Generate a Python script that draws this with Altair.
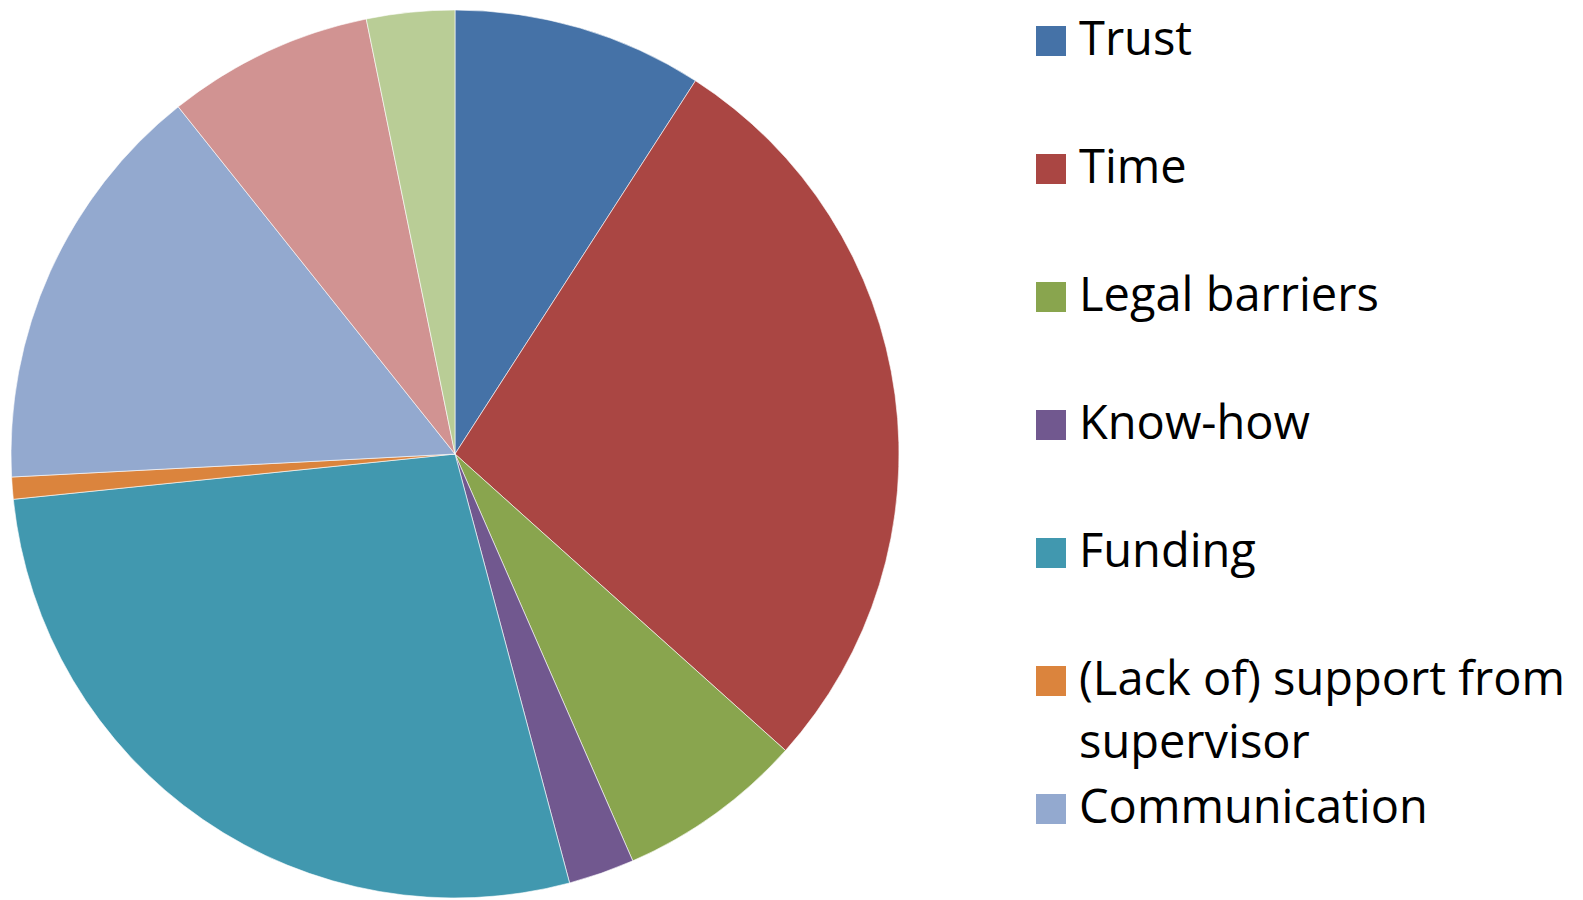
import altair as alt
import pandas as pd

categories = ["Trust", "Time", "Legal barriers", "Know-how", "Funding",
              "(Lack of) support from supervisor", "Communication", "Culture", "Other"]
values = [9.1, 27.5, 6.8, 2.4, 27.5, 0.8, 15.1, 7.5, 3.2]
colors = ["#4572A7", "#AA4643", "#89A54E", "#71588F", "#4198AF",
          "#DB843D", "#93A9CF", "#D19392", "#B9CD96"]
legend_labels = ["Trust", "Time", "Legal barriers", "Know-how", "Funding",
                 "(Lack of) support from\nsupervisor", "Communication", "Culture", "Other"]
visible_legend_rows = 7  # the last entries fall below the page edge in the original

df = pd.DataFrame({
    "category": categories,
    "value": values,
    "order": list(range(len(categories))),
    "label": legend_labels,
})

color_scale = alt.Scale(domain=categories, range=colors)

pie = alt.Chart(df).mark_arc(radius=444, stroke="white", strokeWidth=0.6).encode(
    theta=alt.Theta("value:Q", stack=True),
    color=alt.Color("category:N", scale=color_scale, legend=None),
    order=alt.Order("order:Q"),
    x=alt.value(447),
    y=alt.value(444),
).properties(width=894, height=880)

row_px = 128.0
d0 = -31.0 / row_px
d1 = d0 + 880.0 / row_px

base = alt.Chart(df).transform_filter(
    alt.datum.order < visible_legend_rows
).encode(
    y=alt.Y("order:Q", scale=alt.Scale(domain=[d0, d1], reverse=True, nice=False, zero=False), axis=None)
)
sym = base.mark_square(size=900, opacity=1).encode(
    x=alt.value(21),
    color=alt.Color("category:N", scale=color_scale, legend=None),
)
txt = base.mark_text(align="left", baseline="alphabetic", dy=14, fontSize=47, font="Open Sans",
                     lineBreak="\n", lineHeight=63, color="black").encode(
    x=alt.value(49),
    text="label:N",
)
legend = (sym + txt).properties(width=540, height=880)

chart = alt.hconcat(pie, legend, spacing=128).configure_view(stroke=None).properties(
    padding=0, background="white"
)

chart.save("out.html", embed_options={"renderer": "svg", "actions": False})
